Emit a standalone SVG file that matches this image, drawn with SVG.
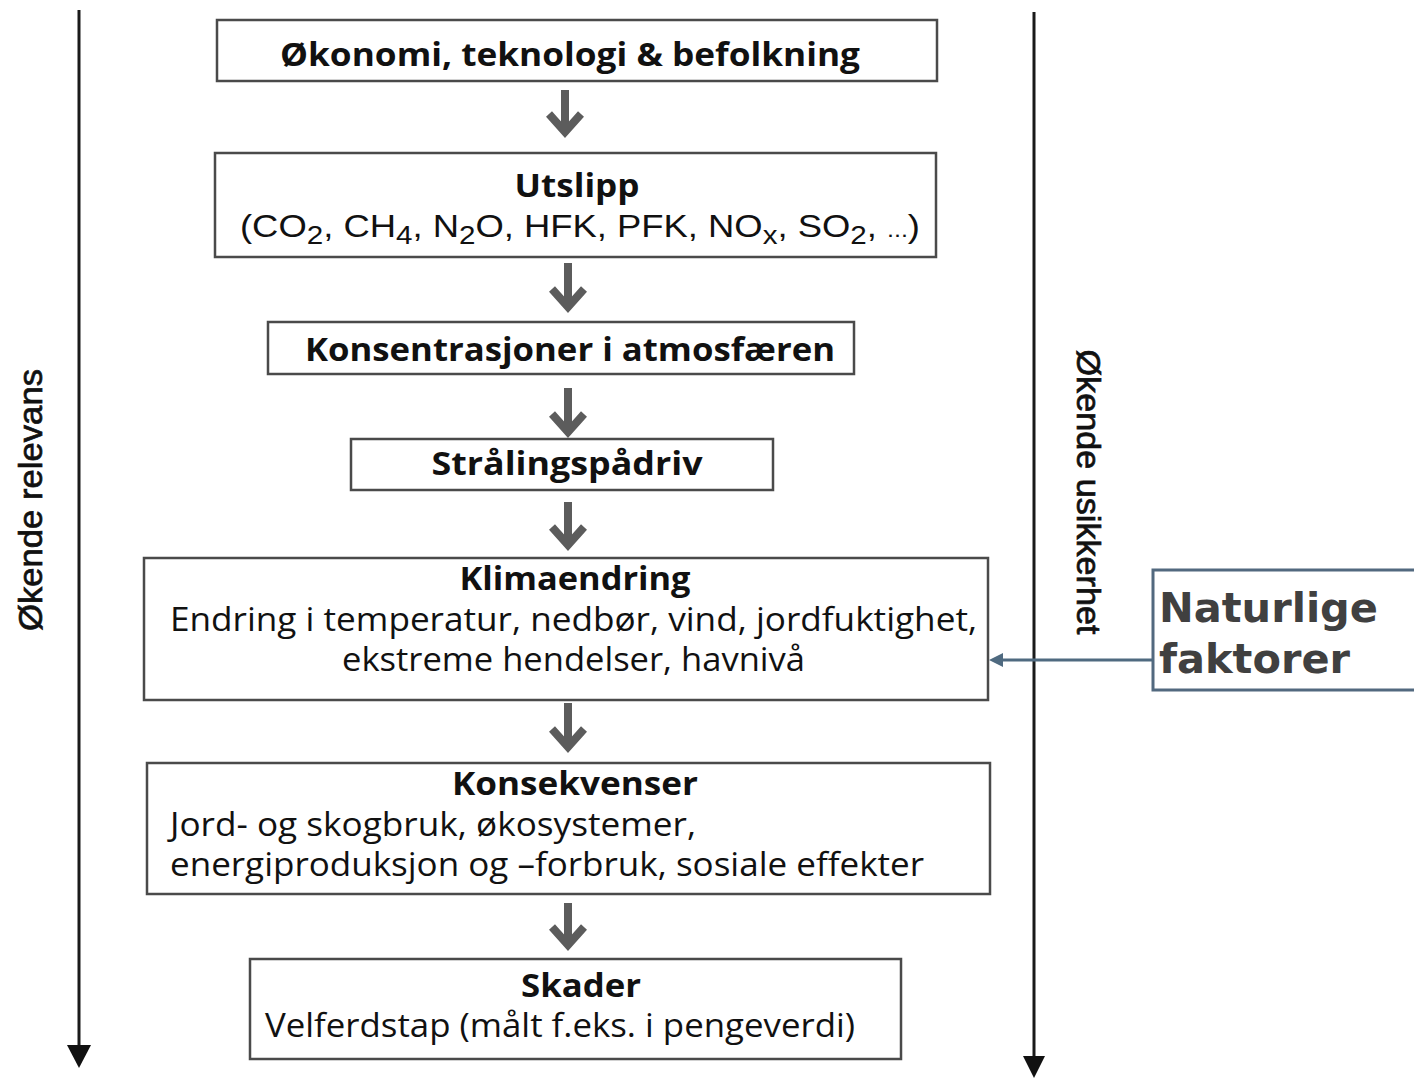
<svg xmlns="http://www.w3.org/2000/svg" width="1414" height="1081" viewBox="0 0 1414 1081">
<style>
.box{fill:#fff;stroke:#4a4a4a;stroke-width:2.5}
.h{font-family:"Open Sans","Liberation Sans",sans-serif;font-weight:700;font-size:33px;fill:#111;text-anchor:middle}
.b{font-family:"Open Sans","Liberation Sans",sans-serif;font-size:32px;fill:#111}
.a{font-family:"Liberation Sans",Arial,sans-serif;font-size:32px;fill:#111}
.ax{font-family:"Liberation Sans",Arial,sans-serif;font-size:33px;fill:#111;stroke:#111;stroke-width:0.7;text-anchor:middle}
.flow{fill:none;stroke:#5c5c5c;stroke-width:8;stroke-linejoin:miter}
.axis{stroke:#1a1a1a;stroke-width:3}
.nat{font-family:"DejaVu Sans",Verdana,sans-serif;font-weight:700;font-size:41px;fill:#404040}
</style>

<g id="axes">
<line class="axis" x1="79" y1="10" x2="79" y2="1050"/>
<path d="M67,1045 L91,1045 L79,1068 Z" fill="#111"/>
<text class="ax" transform="translate(42,500) rotate(-90)" textLength="262" lengthAdjust="spacingAndGlyphs">Økende relevans</text>
<line class="axis" x1="1034" y1="12" x2="1034" y2="1060"/>
<path d="M1023,1056 L1045,1056 L1034,1078 Z" fill="#111"/>
<text class="ax" transform="translate(1077,492) rotate(90)" textLength="285" lengthAdjust="spacingAndGlyphs">Økende usikkerhet</text>
</g>

<g id="n1">
<rect class="box" x="217" y="20" width="720" height="61"/>
<text class="h" x="570" y="66" textLength="580" lengthAdjust="spacingAndGlyphs">Økonomi, teknologi &amp; befolkning</text>
</g>

<g id="n2">
<rect class="box" x="215" y="153" width="721" height="104"/>
<text class="h" x="577" y="197" textLength="125" lengthAdjust="spacingAndGlyphs">Utslipp</text>
<text class="a" x="240" y="237" textLength="680" lengthAdjust="spacingAndGlyphs">(CO<tspan dy="7" font-size="26">2</tspan><tspan dy="-7">, CH</tspan><tspan dy="7" font-size="26">4</tspan><tspan dy="-7">, N</tspan><tspan dy="7" font-size="26">2</tspan><tspan dy="-7">O, HFK, PFK, NO</tspan><tspan dy="7" font-size="26">x</tspan><tspan dy="-7">, SO</tspan><tspan dy="7" font-size="26">2</tspan><tspan dy="-7">, </tspan><tspan font-size="22">...</tspan>)</text>
</g>

<g id="n3">
<rect class="box" x="268" y="322" width="586" height="52"/>
<text class="h" x="570" y="361" textLength="530" lengthAdjust="spacingAndGlyphs">Konsentrasjoner i atmosfæren</text>
</g>

<g id="n4">
<rect class="box" x="351" y="439" width="422" height="51"/>
<text class="h" x="567" y="475" textLength="271" lengthAdjust="spacingAndGlyphs">Strålingspådriv</text>
</g>

<g id="n5">
<rect class="box" x="144" y="558" width="844" height="142"/>
<text class="h" x="575" y="590" textLength="231" lengthAdjust="spacingAndGlyphs">Klimaendring</text>
<text class="b" x="170" y="631" textLength="807" lengthAdjust="spacingAndGlyphs">Endring i temperatur,  nedbør, vind, jordfuktighet,</text>
<text class="b" x="342" y="671" textLength="463" lengthAdjust="spacingAndGlyphs">ekstreme hendelser, havnivå</text>
</g>

<g id="n6">
<rect class="box" x="147" y="763" width="843" height="131"/>
<text class="h" x="575" y="795" textLength="246" lengthAdjust="spacingAndGlyphs">Konsekvenser</text>
<text class="b" x="170" y="836" textLength="526" lengthAdjust="spacingAndGlyphs">Jord- og skogbruk, økosystemer,</text>
<text class="b" x="170" y="876" textLength="754" lengthAdjust="spacingAndGlyphs">energiproduksjon og –forbruk, sosiale effekter</text>
</g>

<g id="n7">
<rect class="box" x="250" y="959" width="651" height="100"/>
<text class="h" x="581" y="997" textLength="120" lengthAdjust="spacingAndGlyphs">Skader</text>
<text class="b" x="265" y="1037" textLength="590" lengthAdjust="spacingAndGlyphs">Velferdstap (målt f.eks. i pengeverdi)</text>
</g>

<g id="n8">
<rect x="1153" y="570" width="275" height="120" fill="#fff" stroke="#52697f" stroke-width="3"/>
<text class="nat" x="1159" y="622" textLength="219" lengthAdjust="spacingAndGlyphs">Naturlige</text>
<text class="nat" x="1159" y="673" textLength="191" lengthAdjust="spacingAndGlyphs">faktorer</text>
</g>

<g id="connectors">
<path class="flow" d="M565,90 V132 M549,114 L565,132 L581,114"/>
<path class="flow" d="M568,263 V307 M552,289 L568,307 L584,289"/>
<path class="flow" d="M568,388 V432 M552,414 L568,432 L584,414"/>
<path class="flow" d="M568,502 V545 M552,527 L568,545 L584,527"/>
<path class="flow" d="M568,703 V747 M552,729 L568,747 L584,729"/>
<path class="flow" d="M568,903 V945 M552,927 L568,945 L584,927"/>
<line x1="1153" y1="660" x2="1000" y2="660" stroke="#4f6a80" stroke-width="3"/>
<path d="M989,660 L1003,653 L1003,667 Z" fill="#4f6a80"/>
</g>
</svg>
